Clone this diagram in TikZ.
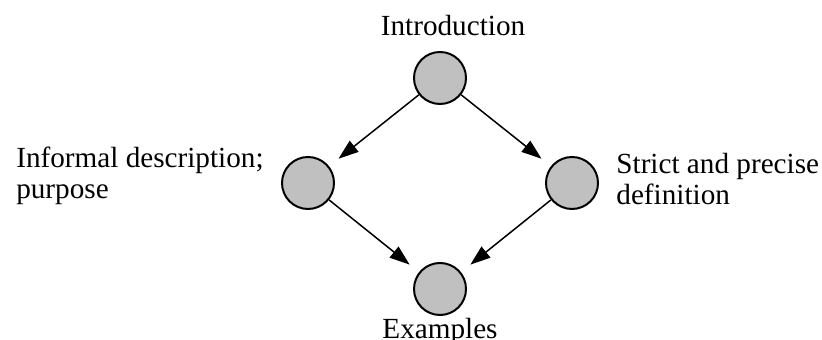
\documentclass[tikz,border=0pt]{standalone}
\usepackage{fontspec}
\setmainfont{Liberation Serif}
\usetikzlibrary{positioning, arrows.meta}

\begin{document}
\begin{tikzpicture}
	[x=0.5pt, y=-0.5pt, >={Triangle[length=10pt,width=7pt]},
	 topic/.style={circle, draw, line width=1pt, fill={rgb,255:red,192;green,192;blue,192}, minimum size=26pt, inner sep=0pt},
	 caption/.style={inner sep=0pt, font=\fontsize{14.6pt}{15.5pt}\selectfont}]
   \useasboundingbox (0,0) rectangle (822,340);
   \node[topic] (intro) at (440,78) {};
   \node[topic] (inf) [on grid, below left=52.5pt and 66pt of intro] {};
   \node[topic] (def) [on grid, below right=52.5pt and 66pt of intro] {};
   \node[topic] (ex) [on grid, below=105.5pt of intro] {};
   % texts
   \node[caption] (intro_t) [above=7.5pt of intro, xshift=6.5pt] {Introduction};
   \node[caption, align=left] (inf_t) [left=8.5pt of inf, yshift=3.5pt] {Informal description;\\purpose};
   \node[caption, align=left] (def_t) [right=8.5pt of def, yshift=2pt] {Strict and precise\\definition};
   \node[caption] (ex_t) [below=1pt of ex] {Examples};
    \path[->, line width=0.75pt, shorten >=6pt]
    (intro) edge (inf)
            edge (def)
    (inf)   edge (ex)
    (def)   edge (ex);
\end{tikzpicture}
\end{document}
